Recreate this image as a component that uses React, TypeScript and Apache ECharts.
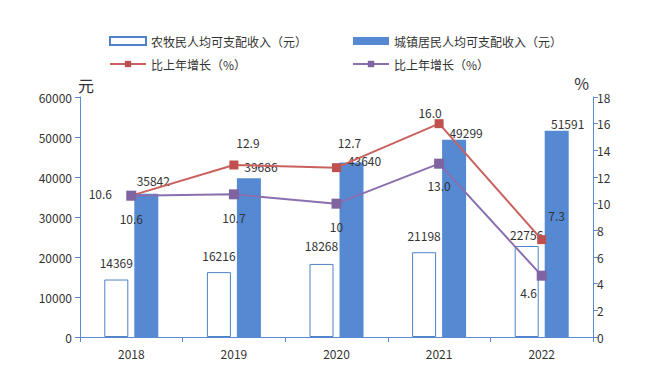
import React, { useEffect, useRef } from "react";
import * as echarts from "echarts";

const categories = ["2018", "2019", "2020", "2021", "2022"];
const ruralIncome = [14369, 16216, 18268, 21198, 22756];
const urbanIncome = [35842, 39686, 43640, 49299, 51591];
const ruralGrowth = [10.6, 12.9, 12.7, 16.0, 7.3];
const urbanGrowth = [10.6, 10.7, 10, 13.0, 4.6];
const ruralGrowthText = ["10.6", "12.9", "12.7", "16.0", "7.3"];
const urbanGrowthText = ["10.6", "10.7", "10", "13.0", "4.6"];

const legendNames: Record<string, string> = {
  rural: "农牧民人均可支配收入（元）",
  urban: "城镇居民人均可支配收入（元）",
  rg: "比上年增长（%）",
  ug: "比上年增长（%）",
};

const FONT = "'Noto Sans CJK SC', sans-serif";

// label offsets (style only)
const ruralBarOff = [[0, -6], [0, -6], [0, -7], [0, -6], [0, 0]];
const urbanBarOff = [[7, -2], [12, -1], [13, 9], [12, 4], [11, 4]];
const rgOff = [[-31, -2], [14, -23], [13, -25], [-9, -11], [15, -24]];
const ugOff = [[0, 23], [0, 23], [0, 23], [0, 22], [-13, 17]];

export default function App() {
  const ref = useRef<HTMLDivElement>(null);
  useEffect(() => {
    const chart = echarts.init(ref.current!, undefined, { renderer: "svg" });
    const labelStyle = { fontFamily: FONT, fontSize: 12, color: "#333" };
    const axisBlue = "#5b8ad0";
    chart.setOption({
      animation: false,
      textStyle: { fontFamily: FONT },
      legend: [
        {
          orient: "vertical",
          left: 96,
          top: 22,
          itemGap: 11,
          itemWidth: 36,
          itemHeight: 8,
          textStyle: { fontFamily: FONT, fontSize: 12, color: "#333" },
          formatter: (n: string) => legendNames[n],
          data: [{ name: "rural", icon: "rect" }, { name: "rg" }],
        },
        {
          orient: "vertical",
          left: 339,
          top: 22,
          itemGap: 11,
          itemWidth: 36,
          itemHeight: 8,
          textStyle: { fontFamily: FONT, fontSize: 12, color: "#333" },
          formatter: (n: string) => legendNames[n],
          data: [{ name: "urban", icon: "rect" }, { name: "ug" }],
        },
      ],
      grid: { left: 72, right: 44, top: 89, bottom: 25 },
      xAxis: {
        type: "category",
        data: categories,
        axisLine: { lineStyle: { color: axisBlue } },
        axisTick: { show: true, length: 5, lineStyle: { color: axisBlue } },
        axisLabel: { color: "#333", fontSize: 12, fontFamily: FONT, margin: 10 },
      },
      yAxis: [
        {
          type: "value",
          min: 0,
          max: 60000,
          interval: 10000,
          name: "元",
          nameGap: 4,
          nameTextStyle: { fontFamily: FONT, fontSize: 16, color: "#333", align: "left", padding: [0, 0, 0, -2] },
          axisLine: { show: true, lineStyle: { color: axisBlue } },
          axisTick: { show: true, length: 5, lineStyle: { color: axisBlue } },
          axisLabel: { color: "#333", fontSize: 12, fontFamily: FONT, margin: 8, formatter: (v: number) => String(v) },
          splitLine: { show: false },
        },
        {
          type: "value",
          min: 0,
          max: 18,
          interval: 2,
          name: "%",
          nameGap: 6,
          nameTextStyle: { fontFamily: FONT, fontSize: 16, color: "#333", align: "right", padding: [0, 4, 0, 0] },
          axisLine: { show: true, lineStyle: { color: axisBlue } },
          axisTick: { show: true, length: 5, lineStyle: { color: axisBlue } },
          axisLabel: { color: "#333", fontSize: 12, fontFamily: FONT, margin: 4 },
          splitLine: { show: false },
        },
      ],
      series: [
        {
          name: "rural",
          type: "bar",
          barWidth: 24,
          barGap: "25%",
          itemStyle: { color: "#ffffff", borderColor: "#4f81c6", borderWidth: 1 },
          data: ruralIncome.map((v, i) => ({
            value: v,
            label: { offset: ruralBarOff[i] },
          })),
          label: { show: true, position: "top", distance: 5, ...labelStyle },
        },
        {
          name: "urban",
          type: "bar",
          barWidth: 24,
          itemStyle: { color: "#558ad3" },
          data: urbanIncome.map((v, i) => ({
            value: v,
            label: { offset: urbanBarOff[i] },
          })),
          label: { show: true, position: "top", distance: 5, ...labelStyle },
        },
        {
          name: "rg",
          type: "line",
          yAxisIndex: 1,
          z: 5,
          symbol: "rect",
          symbolSize: 9,
          itemStyle: { color: "#c0504d" },
          lineStyle: { color: "#c9625e", width: 2 },
          data: ruralGrowth.map((v, i) => ({
            value: v,
            label: { offset: rgOff[i], formatter: ruralGrowthText[i] },
          })),
          label: { show: true, position: "inside", ...labelStyle },
        },
        {
          name: "ug",
          type: "line",
          yAxisIndex: 1,
          z: 5,
          symbol: "rect",
          symbolSize: 10,
          itemStyle: { color: "#8064a2" },
          lineStyle: { color: "#8a6fb0", width: 2 },
          data: urbanGrowth.map((v, i) => ({
            value: v,
            label: { offset: ugOff[i], formatter: urbanGrowthText[i] },
          })),
          label: { show: true, position: "inside", ...labelStyle },
        },
      ],
    });
    return () => chart.dispose();
  }, []);
  return <div ref={ref} style={{ width: 629, height: 354 }} />;
}
